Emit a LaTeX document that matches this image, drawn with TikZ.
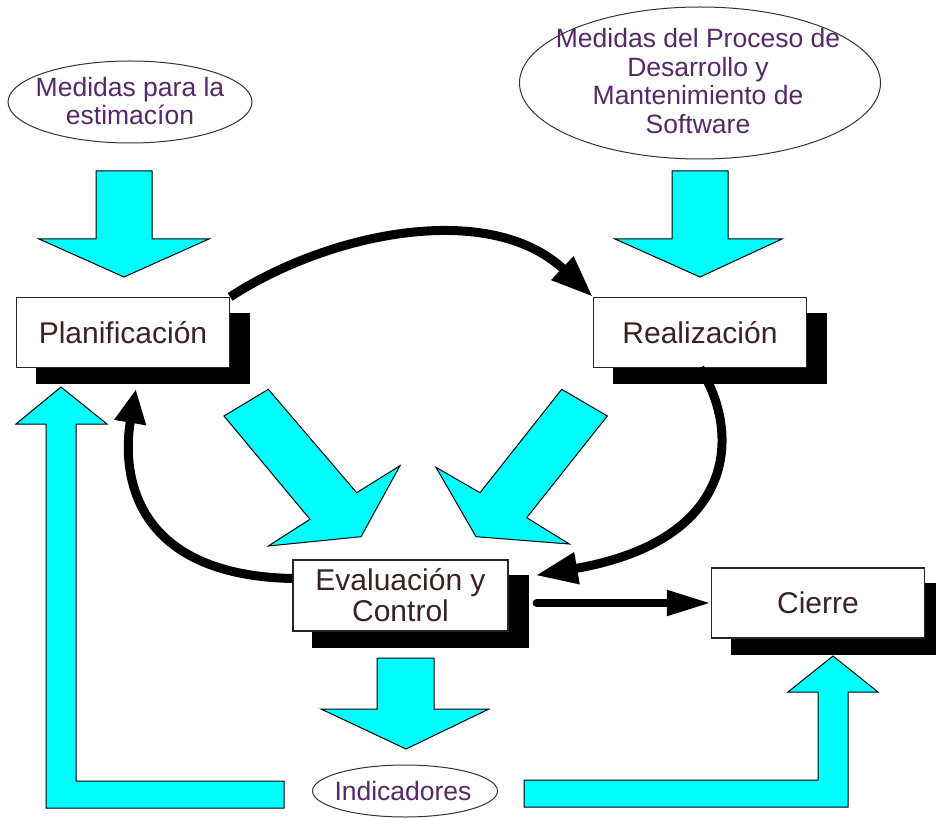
\documentclass[tikz,border=0pt]{standalone}
\usepackage{fontspec}
\setmainfont{Liberation Sans}
\usetikzlibrary{arrows.meta,shapes.geometric,shadows}
\definecolor{boxtext}{HTML}{3A2222}
\definecolor{ovaltext}{HTML}{552866}
\definecolor{aqua}{RGB}{0,255,255}
\begin{document}
\begin{tikzpicture}[x=1pt,y=-1pt,
 boxnode/.style={draw=black!85,line width=1.2pt,fill=white,minimum width=213pt,minimum height=70pt,inner sep=0pt,
   font=\fontsize{30}{31}\selectfont,text=boxtext,align=center,
   copy shadow={shadow xshift=20pt,shadow yshift=-16pt,fill=black,draw=black}},
 ovalnode/.style={ellipse,draw=black!80,line width=1pt,inner sep=0pt},
 ovaltext/.style={font=\fontsize{26.5}{28.5}\selectfont,text=ovaltext,align=center,inner sep=0pt},
 bigarrow/.style={fill=aqua,draw=black,line width=1pt,line join=miter},
 conn/.style={line width=9pt,-{Triangle[length=42pt,width=30pt]}}
]
\useasboundingbox (0,0) rectangle (936,818);
\fill[white] (0,0) rectangle (936,818);

% ellipses
\node[ovalnode,minimum width=244pt,minimum height=82pt] (e1) at (130,102) {};
\node[ovaltext] (t1) at (130,101) {Medidas para la\\estimacíon};
\node[ovalnode,minimum width=361pt,minimum height=152pt] (e2) at (700,83) {};
\node[ovaltext] (t2) at (698,81) {Medidas del Proceso de\\Desarrollo y\\Mantenimiento de\\Software};
\node[ovalnode,minimum width=185pt,minimum height=52pt] (e3) at (405,791) {};
\node[ovaltext] (t3) at (403,791) {Indicadores};

% cyan block arrows
\draw[bigarrow] (96,171) -- (152,171) -- (152,239) -- (209,239) -- (124,277) -- (39,239) -- (96,239) -- cycle;
\draw[bigarrow] (672,171) -- (728,171) -- (728,239) -- (782,239) -- (700,277) -- (615,239) -- (672,239) -- cycle;
\draw[bigarrow] (377,658) -- (434,658) -- (434,709) -- (489,709) -- (406,749) -- (321,709) -- (377,709) -- cycle;
\draw[bigarrow] (224,416) -- (268.3,389.3) -- (356.7,492.7) -- (400,465.7) -- (361,536.7) -- (268.3,546) -- (310,519.3) -- cycle;
\draw[bigarrow] (561.7,389.3) -- (607.3,416) -- (526.7,517.7) -- (569.3,544) -- (476,536.7) -- (436,467.3) -- (480,492.7) -- cycle;
\draw[bigarrow] (61,387) -- (107,424) -- (76,424) -- (76,781) -- (284,781) -- (284,808) -- (46,808) -- (46,424) -- (16,424) -- cycle;
\draw[bigarrow] (524,780) -- (818,780) -- (818,692) -- (788,692) -- (833,656) -- (878,692) -- (848,692) -- (848,807) -- (524,807) -- cycle;

% boxes
\node[boxnode] (plan) at (123,332.5) {Planificación};
\node[boxnode] (real) at (700,332.5) {Realización};
\node[boxnode,minimum width=215pt,minimum height=71pt] (eval) at (400.5,595.5) {Evaluación y\\Control};
\node[boxnode] (cierre) at (818,603) {Cierre};

% connectors
\coordinate (evalin) at ([xshift=27pt,yshift=-16pt]eval.north east);
\coordinate (planin) at ([xshift=120pt,yshift=-21pt]plan.south west);
\draw[conn] (plan.north east) .. controls (330,232) and (490,200) .. (real.north west);
\draw[conn] (real.south) .. controls (740,430) and (740,540) .. (evalin);
\draw[conn,-{Triangle[length=34pt,width=30pt]}] ([yshift=17pt]eval.west) .. controls (130,575) and (122,470) .. (planin);
\draw[line width=8pt,line cap=round,-{Triangle[length=44pt,width=24pt]}] ([xshift=28pt]eval.east |- cierre.west) -- (cierre.west);
\end{tikzpicture}
\end{document}
